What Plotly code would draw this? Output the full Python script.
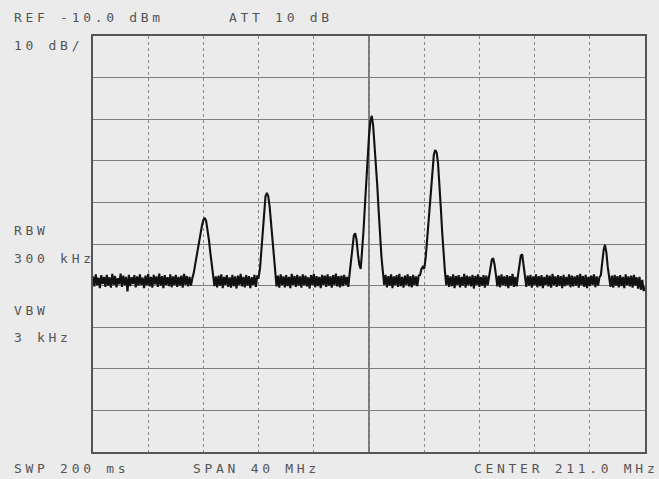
import numpy as np
import plotly.graph_objects as go

# Sweep settings
CENTER_MHZ = 211.0
SPAN_MHZ = 40.0
REF_DBM = -10.0
DB_PER_DIV = 10.0
N_DIV_X = 10
N_DIV_Y = 10

# Trace levels in dBm, one per 0.1 MHz from 191.0 to 231.0 MHz
level_dbm = [
    # 191
    -67.8, -70.2, -67.3, -69.9, -68.1, -70.6, -67.5, -69.6, -67.9, -70.3,
    # 192
    -67.4, -70.0, -68.0, -70.5, -67.2, -69.8, -67.7, -70.4, -68.2, -69.7,
    # 193
    -67.1, -70.3, -67.6, -69.9, -67.9, -71.4, -67.4, -70.1, -68.0, -69.6,
    # 194
    -67.5, -70.4, -67.8, -70.0, -67.3, -69.8, -68.1, -70.6, -67.6, -69.9,
    # 195
    -67.2, -70.2, -67.9, -70.5, -67.4, -69.7, -67.8, -70.3, -67.1, -70.0,
    # 196
    -67.7, -70.6, -67.5, -69.8, -68.0, -70.1, -67.3, -70.4, -67.8, -69.9,
    # 197
    -67.4, -70.3, -67.9, -70.0, -67.6, -70.5, -67.2, -69.8, -67.7, -70.2,
    # 198
    -67.9, -70.0, -68.2, -67.0, -65.0, -63.0, -61.0, -59.0, -57.0, -55.5,
    # 199
    -54.2, -53.7, -54.5, -56.5, -59.0, -62.0, -65.0, -67.5, -70.1, -67.8,
    # 200
    -70.4, -67.6, -70.0, -67.3, -70.6, -67.9, -69.8, -67.5, -70.3, -68.0,
    # 201
    -70.5, -67.4, -70.1, -67.8, -70.7, -67.6, -69.9, -67.2, -70.2, -67.9,
    # 202
    -70.4, -67.5, -70.0, -67.7, -70.6, -68.0, -69.8, -67.4, -70.3, -67.8,
    # 203
    -68.0, -66.0, -62.0, -57.0, -52.0, -48.5, -47.7, -48.5, -51.0, -55.0,
    # 204
    -59.5, -64.0, -67.0, -70.2, -67.6, -70.5, -67.3, -69.9, -67.8, -70.4,
    # 205
    -67.5, -70.1, -67.9, -70.6, -67.2, -69.8, -67.7, -70.3, -67.4, -70.0,
    # 206
    -67.8, -70.5, -67.3, -69.9, -67.6, -70.2, -68.0, -70.7, -67.5, -69.8,
    # 207
    -67.2, -70.4, -67.7, -70.1, -67.9, -70.6, -67.4, -69.8, -67.6, -70.3,
    # 208
    -67.3, -70.0, -67.8, -70.5, -67.5, -69.9, -67.1, -70.2, -67.7, -70.4,
    # 209
    -67.6, -70.1, -67.4, -69.8, -67.9, -70.3, -67.0, -64.0, -60.0, -58.0,
    # 210
    -57.4, -59.0, -62.5, -65.0, -66.0, -62.0, -57.0, -51.0, -45.0, -39.0,
    # 211
    -34.0, -30.5, -29.2, -31.5, -36.0, -40.0, -46.0, -52.0, -58.0, -63.0,
    # 212
    -66.5, -69.8, -67.4, -70.4, -67.7, -70.0, -67.3, -70.6, -67.8, -69.9,
    # 213
    -67.5, -70.3, -67.2, -70.1, -67.9, -70.5, -67.6, -69.8, -67.3, -70.2,
    # 214
    -67.7, -70.4, -67.4, -69.9, -67.8, -70.1, -67.6, -67.5, -66.0, -65.5,
    # 215
    -66.0, -63.5, -59.5, -55.0, -50.5, -46.0, -41.5, -38.5, -37.4, -38.0,
    # 216
    -40.5, -45.0, -51.0, -57.0, -62.5, -66.5, -69.9, -67.5, -70.3, -67.8,
    # 217
    -70.1, -67.3, -70.6, -67.7, -69.8, -67.5, -70.4, -67.9, -70.0, -67.2,
    # 218
    -70.5, -67.6, -69.9, -67.8, -70.2, -67.4, -70.7, -67.7, -69.8, -67.3,
    # 219
    -70.3, -67.9, -70.0, -67.5, -70.5, -67.6, -69.9, -67.5, -65.5, -63.8,
    # 220
    -63.4, -65.0, -67.5, -70.2, -67.6, -70.4, -67.3, -69.9, -67.8, -70.1,
    # 221
    -67.5, -70.6, -67.7, -70.0, -67.2, -70.3, -67.9, -70.2, -67.5, -65.0,
    # 222
    -62.8, -62.5, -65.0, -67.5, -70.3, -67.6, -70.0, -67.4, -70.5, -67.8,
    # 223
    -69.9, -67.3, -70.4, -67.7, -70.1, -67.5, -70.6, -67.9, -69.8, -67.4,
    # 224
    -70.2, -67.6, -70.5, -67.2, -69.9, -67.8, -70.3, -67.5, -70.0, -67.7,
    # 225
    -70.6, -67.4, -70.1, -67.9, -69.8, -67.3, -70.4, -67.6, -70.2, -67.8,
    # 226
    -70.0, -67.5, -70.5, -67.2, -69.9, -67.7, -70.3, -67.4, -70.6, -67.9,
    # 227
    -70.1, -67.6, -69.8, -67.3, -70.4, -67.8, -70.0, -68.0, -67.5, -64.5,
    # 228
    -61.5, -60.2, -62.0, -65.5, -68.0, -70.3, -67.6, -70.5, -67.4, -70.0,
    # 229
    -67.7, -70.4, -67.5, -70.1, -67.9, -70.6, -67.3, -69.9, -67.8, -70.2,
    # 230
    -67.6, -70.5, -67.4, -70.0, -68.0, -70.7, -67.9, -71.0, -68.6, -71.3,
    # 231
    -70.2,
]

# Screen annotation texts
top_left_text = "REF -10.0 dBm"
top_mid_text = "ATT 10 dB"
scale_text = "10 dB/"
side_texts = ["RBW", "300 kHz", "VBW", "3 kHz"]
bottom_texts = ["SWP 200 ms", "SPAN 40 MHz", "CENTER 211.0 MHz"]

start = CENTER_MHZ - SPAN_MHZ / 2
stop = CENTER_MHZ + SPAN_MHZ / 2
freq_mhz = np.linspace(start, stop, len(level_dbm))
bottom_dbm = REF_DBM - DB_PER_DIV * N_DIV_Y

BG = "#ebebeb"
TXT = "#555555"
FONT = "DejaVu Sans Mono"

fig = go.Figure()
fig.add_trace(go.Scatter(
    x=freq_mhz, y=level_dbm, mode="lines",
    line=dict(color="#111111", width=2.1),
    hoverinfo="skip", showlegend=False,
))

# center graticule line (solid)
fig.add_shape(type="line", xref="x", yref="y",
              x0=CENTER_MHZ, x1=CENTER_MHZ, y0=bottom_dbm, y1=REF_DBM,
              line=dict(color="#555555", width=1.5), layer="below")

fig.update_xaxes(
    range=[start, stop], dtick=SPAN_MHZ / N_DIV_X, tick0=start,
    showgrid=True, gridcolor="#8a8a8a", gridwidth=1, griddash="dot",
    showticklabels=False, ticks="", zeroline=False,
    showline=True, mirror=True, linecolor="#555555", linewidth=1.5,
)
fig.update_yaxes(
    range=[bottom_dbm, REF_DBM], dtick=DB_PER_DIV, tick0=REF_DBM,
    showgrid=True, gridcolor="#7e7e7e", gridwidth=1.2,
    showticklabels=False, ticks="", zeroline=False,
    showline=True, mirror=True, linecolor="#555555", linewidth=1.5,
)


def spaced(t):
    return '<span style="letter-spacing:3.7px">' + t.replace(" ", "&nbsp;") + "</span>"


ann = []


def add_text(t, x, y):
    ann.append(dict(text=spaced(t), x=x, y=y, xref="paper", yref="paper",
                    xanchor="left", yanchor="middle", showarrow=False,
                    font=dict(family=FONT, size=13, color=TXT)))


W, H = 659, 479
ML, MR, MT, MB = 93, 12, 36, 27
pw, ph = W - ML - MR, H - MT - MB


def px(xpix):
    return (xpix - ML) / pw


def py(ypix):
    return 1 - (ypix - MT) / ph


add_text(top_left_text, px(12), py(17))
add_text(top_mid_text, px(227), py(17))
add_text(scale_text, px(12), py(45))
for t, yy in zip(side_texts, [230, 258, 310, 337]):
    add_text(t, px(12), py(yy))
for t, xx in zip(bottom_texts, [12, 191, 473]):
    add_text(t, px(xx), py(468))

fig.update_layout(
    width=W, height=H,
    margin=dict(l=ML, r=MR, t=MT, b=MB, pad=0),
    paper_bgcolor=BG, plot_bgcolor=BG,
    annotations=ann,
    showlegend=False,
)

fig.write_html(
    "out.html",
    config={"displayModeBar": False},
    post_script="document.body.style.margin='0px';document.body.style.background='#ebebeb';",
)
